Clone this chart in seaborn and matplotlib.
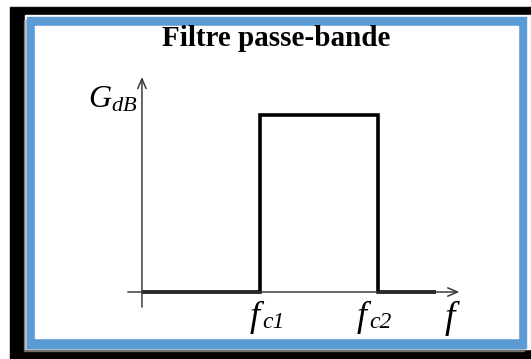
import matplotlib
matplotlib.use("Agg")
import matplotlib.pyplot as plt
from matplotlib.patches import Rectangle
import seaborn as sns
import pandas as pd

# données du gabarit (fc1 = 1, fc2 = 2, gain normalisé)
freq = [0, 1, 1, 2, 2, 2.49]
gain = [0, 0, 1, 1, 0, 0]
titre = "Filtre passe-bande"
indices_f = ["c1", "c2"]

sns.set_style("white")
plt.rcParams["font.family"] = ["Liberation Serif", "DejaVu Serif"]
plt.rcParams["text.color"] = "black"
plt.rcParams["mathtext.fontset"] = "custom"
plt.rcParams["mathtext.rm"] = "Liberation Serif"
plt.rcParams["mathtext.it"] = "Liberation Serif:italic"

W, H = 531, 359
fig = plt.figure(figsize=(W / 100, H / 100), dpi=100)

# cadre (coordonnées pixels)
bg = fig.add_axes([0, 0, 1, 1])
bg.set_xlim(0, W)
bg.set_ylim(H, 0)
bg.set_axis_off()
bg.plot([10, W], [6, 6], color="#cccccc", lw=0.8)
bg.add_patch(Rectangle((10, 7), 540, 360, color="black"))
bg.add_patch(Rectangle((25, 15), 520, 334, color="white"))
bg.add_patch(Rectangle((24, 20), 500, 331, color="#9a9a9a", alpha=0.6))
bg.add_patch(Rectangle((27, 17), 499, 331, color="#5b9bd5"))
bg.add_patch(Rectangle((35, 26), 483, 312, color="white"))

# zone du tracé
ax = fig.add_axes([120 / W, 39 / H, 350 / W, 250 / H])
ax.set_xlim(-0.186, 2.78)
ax.set_ylim(-0.158, 1.254)
ax.set_axis_off()
ax.patch.set_alpha(0)

axe = dict(arrowstyle="->,head_length=0.7,head_width=0.3", lw=1.1,
           color="#3a3a3a", shrinkA=0, shrinkB=0)
ax.annotate("", xy=(2.69, 0), xytext=(-0.12, 0), arrowprops=axe)
ax.annotate("", xy=(0, 1.215), xytext=(0, -0.085), arrowprops=axe)

df = pd.DataFrame({"f": freq, "G": gain})
sns.lineplot(data=df, x="f", y="G", estimator=None, sort=False,
             color="black", lw=2.6, ax=ax)
ax.lines[-1].set_solid_joinstyle("miter")
ax.lines[-1].set_solid_capstyle("butt")

# libellés (f italique + indice)
for x, ind in zip([250, 357], indices_f):
    bg.text(x, 326, "f", fontsize=26, style="italic", va="baseline")
    bg.text(x + 12, 328, ind, fontsize=17, style="italic", va="baseline")
bg.text(445, 328, "f", fontsize=27, style="italic", va="baseline")

bg.text(88, 107, "$G_{dB}$", fontsize=23, va="baseline")

fig.text(276 / W, 1 - 38 / H, titre, fontsize=21, fontweight="bold",
         ha="center", va="center")

fig.savefig("out.png", dpi=100)
